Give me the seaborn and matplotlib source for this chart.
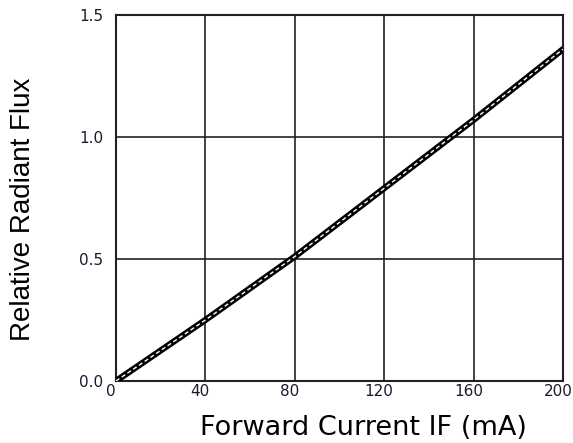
import matplotlib
matplotlib.use("Agg")
import matplotlib.pyplot as plt
import matplotlib.transforms as mtransforms
import seaborn as sns
import pandas as pd

current_ma = [0, 40, 80, 120, 160, 200]
rel_flux = [0.0, 0.25, 0.51, 0.79, 1.07, 1.36]
x_ticks = [0, 40, 80, 120, 160, 200]
y_ticks = [0.0, 0.5, 1.0, 1.5]
y_ticklabels = ["0.0", "0.5", "1.0", "1.5"]

sns.set_theme(style="white")
plt.rcParams['font.family'] = ['Liberation Sans', 'DejaVu Sans']

df = pd.DataFrame({"I": current_ma, "F": rel_flux})

fig = plt.figure(figsize=(5.73, 4.43), dpi=100)
ax = fig.add_axes([0.2024, 0.1400, 0.7801, 0.8261])

sns.lineplot(data=df, x="I", y="F", ax=ax, color="black", linewidth=4.5,
             solid_capstyle="round", zorder=3)
sns.lineplot(data=df, x="I", y="F", ax=ax, color="white", linewidth=1.0,
             linestyle=(0, (3, 2)), zorder=4)

ax.set_xlim(0, 200)
ax.set_ylim(0, 1.5)
ax.set_xticks(x_ticks)
ax.set_yticks(y_ticks)
ax.set_yticklabels(y_ticklabels)
ax.grid(True, color="#222222", linewidth=1.2)
for s in ax.spines.values():
    s.set_visible(True)
    s.set_color("#222222")
    s.set_linewidth(1.5)
ax.tick_params(axis="both", length=0, colors="#1a1a2e")
ax.tick_params(axis="x", pad=2)
ax.tick_params(axis="y", pad=9)
for lab in ax.get_xticklabels() + ax.get_yticklabels():
    lab.set_fontfamily("DejaVu Sans")
    lab.set_fontsize(11)
shift = mtransforms.ScaledTranslation(-5 / 100, 0, fig.dpi_scale_trans)
for lab in ax.get_xticklabels():
    lab.set_transform(lab.get_transform() + shift)

ax.set_xlabel("Forward Current IF (mA)", fontsize=19.5, color="black",
              fontfamily="DejaVu Sans")
ax.set_ylabel("Relative Radiant Flux", fontsize=20, color="black",
              fontfamily="Liberation Sans")
ax.xaxis.set_label_coords(0.553, -0.093)
ax.yaxis.set_label_coords(-0.208, 0.47)
ax.yaxis.label.set_verticalalignment("center")

fig.savefig("out.png", dpi=100)
